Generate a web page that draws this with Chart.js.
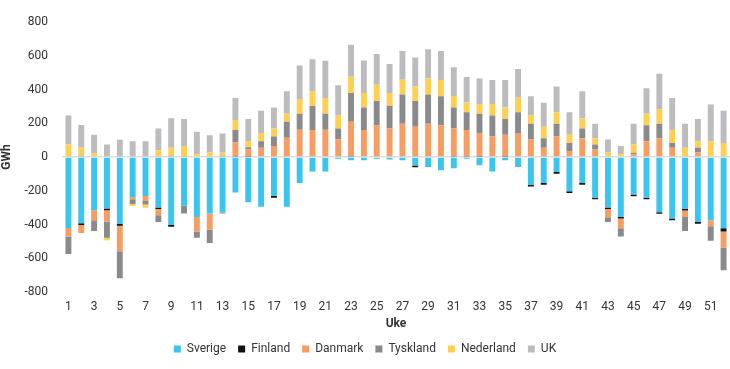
<!DOCTYPE html>
<html>
<head>
<meta charset="utf-8">
<script src="https://cdn.jsdelivr.net/npm/chart.js@4"></script>
<style>
  html, body { margin: 0; padding: 0; background: #fff; }
  #wrap { width: 730px; height: 369px; position: relative; }
</style>
</head>
<body>
<div id="wrap"><canvas id="exchangeChart"></canvas></div>
<script>
const weeks = Array.from({ length: 52 }, (_, i) => String(i + 1));

const sverige = [-420, -392, -314, -304, -396, -238, -230, -298, -402, -288, -354, -334, -330, -210, -268, -294, -230, -294, -154, -86,
    -86, -10, -18, -18, -10, -14, -18, -50, -58, -78, -66, -10, -48, -86, -18, -58, -164, -154, -88, -202,
    -154, -240, -298, -354, -222, -240, -326, -364, -306, -384, -374, -422];
const finland = [0, -10, 0, -10, -10, 0, 0, -10, -10, 0, 0, 0, 0, 6, 4, 5, -10, 0, 5, 0,
    0, 0, 6, 0, 0, 5, 5, -10, 0, 0, 6, 6, 4, 0, 4, 0, -10, -10, -10, -10,
    -10, -10, -10, -10, -10, -10, -10, -10, -10, -10, 0, -18];
const danmark = [-50, -48, -60, -68, -152, -12, -30, -36, 0, 3, -86, -96, -6, 80, 42, 51, 66, 114, 157, 160,
    162, 104, 204, 160, 188, 165, 193, 180, 198, 188, 164, 154, 138, 122, 128, 142, 104, 56, 122, 36,
    112, 46, -48, -58, 16, 94, 112, 56, -38, 28, -36, -96];
const tyskland = [-104, 8, -64, -96, -160, -28, -20, -40, 8, -46, -38, -78, 8, 74, 12, 38, 56, 96, 94, 142,
    94, 66, 170, 134, 144, 134, 172, 152, 172, 172, 124, 106, 114, 124, 94, 124, 94, 56, 76, 48,
    58, 28, -28, -48, 10, 94, 86, 28, -84, 28, -86, -134];
const nederland = [74, 48, 22, -14, 0, -12, -20, 40, 48, 63, 18, 28, 18, 60, 38, 48, 48, 46, 86, 88,
    94, 76, 96, 86, 96, 76, 88, 86, 96, 96, 68, 58, 58, 68, 68, 86, 48, 68, 68, 48,
    58, 38, 26, 18, 48, 68, 86, 76, 56, 38, 94, 84];
const uk = [172, 134, 110, 74, 102, 94, 94, 130, 174, 160, 132, 102, 114, 130, 130, 132, 124, 134, 200, 190,
    220, 180, 190, 192, 182, 172, 170, 172, 172, 172, 170, 150, 152, 142, 162, 170, 114, 142, 152, 134,
    162, 86, 78, 48, 124, 152, 210, 190, 142, 132, 218, 190];

const yTicks = [-800, -600, -400, -200, 0, 200, 400, 600, 800];

const series = [
    { label: 'Sverige', data: sverige, color: '#38c5f0' },
    { label: 'Finland', data: finland, color: '#111111' },
    { label: 'Danmark', data: danmark, color: '#f79c62' },
    { label: 'Tyskland', data: tyskland, color: '#8a8a8c' },
    { label: 'Nederland', data: nederland, color: '#ffcf52' },
    { label: 'UK', data: uk, color: '#bcbcbf' }
];

Chart.defaults.font.family = 'Roboto, sans-serif';
Chart.defaults.font.size = 12;
Chart.defaults.color = '#333';

const ctx = document.getElementById('exchangeChart').getContext('2d');
new Chart(ctx, {
    type: 'bar',
    data: {
        labels: weeks,
        datasets: series.map(s => ({
            label: s.label,
            data: s.data,
            backgroundColor: s.color,
            borderWidth: 0,
            categoryPercentage: 1,
            barPercentage: 0.46
        }))
    },
    options: {
        responsive: true,
        maintainAspectRatio: false,
        animation: false,
        layout: { padding: { top: 22, right: 0, left: 0, bottom: 4 } },
        scales: {
            x: {
                stacked: true,
                grid: { display: false },
                border: { display: false },
                ticks: {
                    autoSkip: false,
                    maxRotation: 0,
                    padding: 0,
                    callback: (v, i) => (i % 2 === 0 ? weeks[i] : '')
                },
                title: {
                    display: true,
                    text: 'Uke',
                    font: { weight: 'bold', size: 12 },
                    padding: { top: 2, bottom: 0 }
                }
            },
            y: {
                stacked: true,
                min: -800,
                max: 800,
                afterBuildTicks: axis => { axis.ticks = yTicks.map(v => ({ value: v })); },
                afterFit: axis => { axis.width = 62; },
                border: { display: false },
                grid: {
                    drawTicks: false,
                    color: c => (c.tick && c.tick.value === 0 ? '#dddddd' : 'rgba(0,0,0,0)'),
                    lineWidth: 1.5
                },
                ticks: { padding: 14 },
                title: {
                    display: true,
                    text: 'GWh',
                    font: { weight: 'bold', size: 12 },
                    padding: 0
                }
            }
        },
        plugins: {
            legend: {
                position: 'bottom',
                labels: {
                    usePointStyle: true,
                    pointStyle: 'rect',
                    boxWidth: 7,
                    boxHeight: 7,
                    padding: 12,
                    font: { size: 12 }
                }
            },
            tooltip: { enabled: false }
        }
    }
});
</script>
</body>
</html>
